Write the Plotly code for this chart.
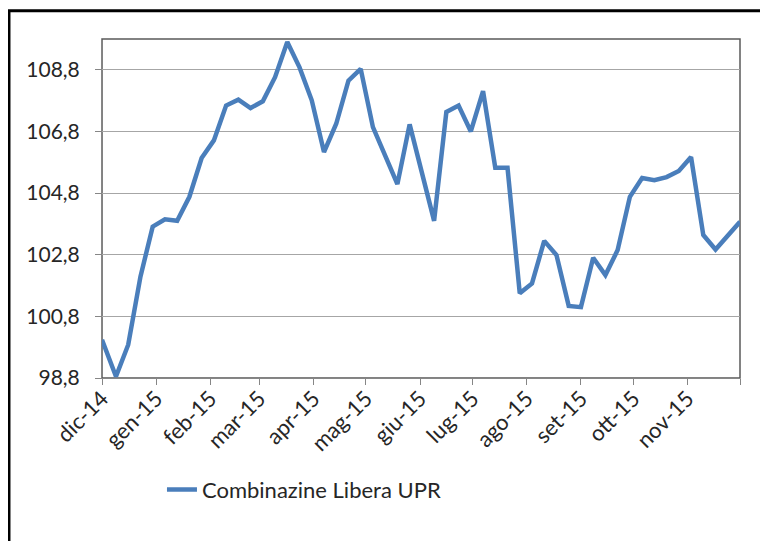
import pandas as pd
import plotly.graph_objects as go

# --- data ---
dates = ["2014-12-01"] + [d.strftime("%Y-%m-%d") for d in pd.date_range("2014-12-09", periods=52, freq="7D")]
values = [
    100.04, 98.85, 99.88, 102.09, 103.71, 103.95, 103.90, 104.68, 105.94, 106.51,
    107.64, 107.83, 107.56, 107.78, 108.56, 109.70, 108.88, 107.81, 106.13, 107.05,
    108.45, 108.83, 106.94, 106.03, 105.09, 107.03, 105.50, 103.90, 107.43, 107.64,
    106.80, 108.11, 105.62, 105.62, 101.55, 101.87, 103.25, 102.79, 101.14, 101.10,
    102.70, 102.14, 102.95, 104.68, 105.29, 105.22, 105.32, 105.52, 105.97, 103.44,
    102.97, 103.44, 103.87,
]
series_name = "Combinazine Libera UPR"
month_ticks = ["2014-12-01", "2015-01-01", "2015-02-01", "2015-03-01", "2015-04-01",
               "2015-05-01", "2015-06-01", "2015-07-01", "2015-08-01", "2015-09-01",
               "2015-10-01", "2015-11-01", "2015-12-01"]
month_labels = ["dic-14", "gen-15", "feb-15", "mar-15", "apr-15", "mag-15", "giu-15",
                "lug-15", "ago-15", "set-15", "ott-15", "nov-15", ""]
y_min, y_max, y_step = 98.8, 109.8, 2

FONT = "Lato"
TXT = "#262626"

fig = go.Figure()
fig.add_trace(go.Scatter(
    x=dates, y=values, mode="lines", name=series_name,
    line=dict(color="#4A7EBB", width=4.5),
))

fig.update_layout(
    width=768, height=541,
    margin=dict(l=94, r=36, t=31, b=171),
    paper_bgcolor="white", plot_bgcolor="white",
    separators=",.",
    font=dict(family=FONT, size=21, color=TXT),
    showlegend=True,
    legend=dict(
        orientation="h", x=0.094, xanchor="left", y=-0.3295, yanchor="middle",
        font=dict(family=FONT, size=22, color=TXT),
        bgcolor="rgba(0,0,0,0)", itemwidth=30,
    ),
    xaxis=dict(
        type="date", range=["2014-12-01", "2015-12-01"],
        tickmode="array", tickvals=month_ticks, ticktext=month_labels,
        tickangle=-45, ticks="outside", ticklen=6, tickcolor="#868686",
        showline=True, linecolor="#868686", linewidth=1,
        showgrid=False, zeroline=False,
        tickfont=dict(family=FONT, size=22, color=TXT),
        ticklabelstandoff=-8,
    ),
    yaxis=dict(
        range=[y_min, y_max], tick0=y_min, dtick=y_step, tickformat=".1f",
        ticks="outside", ticklen=6, tickcolor="#868686",
        showline=True, linecolor="#868686", linewidth=1,
        showgrid=True, gridcolor="#A6A6A6", gridwidth=1, zeroline=False,
        tickfont=dict(family=FONT, size=21, color=TXT),
        ticklabelstandoff=11,
    ),
    shapes=[
        # plot-area border (top/right darker)
        dict(type="rect", xref="paper", yref="paper", x0=0, y0=0, x1=1, y1=1,
             line=dict(color="#595959", width=1.5), layer="below"),
        # outer chart frame
        dict(type="rect", xref="paper", yref="paper", x0=-0.1458, y0=-0.7, x1=1.2, y1=1.0835,
             line=dict(color="black", width=3), layer="below"),
    ],
)

fig.write_html("out.html")
